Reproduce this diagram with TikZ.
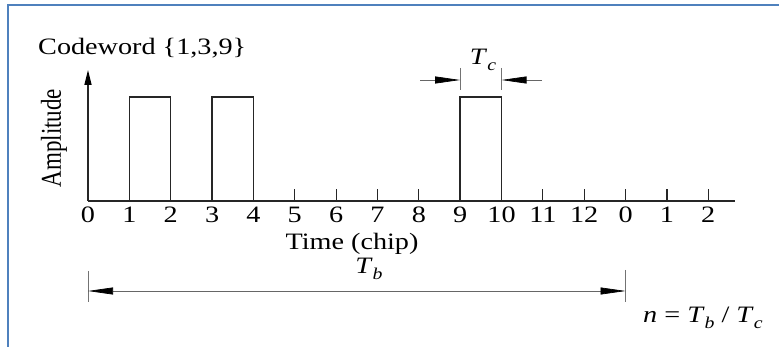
\documentclass[tikz,border=0pt]{standalone}
\usepackage{fontspec}
\setmainfont[FakeStretch=1.2]{Liberation Serif}
\newfontfamily\plainserif{Liberation Serif}
\usetikzlibrary{arrows.meta}
\definecolor{frameblue}{RGB}{79,129,189}
\newcommand{\mysub}[1]{\raisebox{-0.55ex}{\fontsize{16.5}{16}\selectfont\itshape #1}}
\begin{document}
\begin{tikzpicture}[x=1pt,y=-1pt,
  every node/.style={font=\fontsize{23.5}{26}\selectfont, inner sep=0pt},
  axisline/.style={line width=1.5pt, black!85},
  pulse/.style={line width=1.5pt, black!85},
  tickmark/.style={line width=1.2pt, black!85},
  dimline/.style={line width=0.7pt, black!60},
  dimtick/.style={line width=0.8pt, black!55},
  bigtip/.tip={Triangle[length=25pt,width=7pt,color=black]}
]
\useasboundingbox (0,0) rectangle (779,347);
% frame
\draw[frameblue, line width=2pt] (8,352) -- (8,5) -- (784,5);
% tick coordinates and labels
\foreach \i/\l in {0/0,1/1,2/2,3/3,4/4,5/5,6/6,7/7,8/8,9/9,10/10,11/11,12/12,13/0,14/1,15/2}{
  \coordinate (t\i) at ({88+41.35*\i},201);
  \coordinate (p\i) at ({88+41.35*\i},97);
  \node[anchor=base] (lab\i) at ({88+41.35*\i},223) {\l};
}
% axes
\coordinate (axend) at (735,201);
\coordinate (ytop) at (88,70);
\draw[axisline] (t0) -- (axend);
\draw[axisline, -{Triangle[length=15pt,width=7pt,color=black]}] (t0) -- (ytop);
% small ticks
\foreach \i in {5,6,7,8,11,12,13,14,15}{
  \draw[tickmark] (t\i) -- ++(0,-12);
}
% pulses
\draw[pulse] (t1) -- (p1) -- (p2) -- (t2);
\draw[pulse] (t3) -- (p3) -- (p4) -- (t4);
\draw[pulse] (t9) -- (p9) -- (p10) -- (t10);
% Tc dimension
\path (t9) ++(0,-133) coordinate (c9top) ++(0,22) coordinate (c9bot);
\path (t10) ++(0,-133) coordinate (c10top) ++(0,22) coordinate (c10bot);
\draw[dimtick] (c9top) -- (c9bot);
\draw[dimtick] (c10top) -- (c10bot);
\path (t9) ++(0,-121) coordinate (tcL);
\path (t10) ++(0,-121) coordinate (tcR);
\coordinate (tcLfree) at (420,80);
\coordinate (tcRfree) at (542,80);
\draw[dimline, -bigtip] (tcLfree) -- (tcL);
\draw[dimline, -bigtip] (tcRfree) -- (tcR);
\node[anchor=base] (tc) at (483,65) {\textit{T}\mysub{c}};
% Tb dimension
\path (t0) ++(0,70) coordinate (b0top) ++(0,31) coordinate (b0bot);
\path (t13) ++(0,69) coordinate (b13top) ++(0,32) coordinate (b13bot);
\draw[dimtick] (b0top) -- (b0bot);
\draw[dimtick] (b13top) -- (b13bot);
\path (t0) ++(0,90) coordinate (tbL);
\path (t13) ++(0,90) coordinate (tbR);
\draw[dimline, bigtip-bigtip] (tbL) -- (tbR);
\node[anchor=base] (tb) at (369,274) {\textit{T}\mysub{b}};
% texts
\node[anchor=base west] (code) at (38,55) {Codeword \{1,3,9\}};
\node[anchor=base] (time) at (352,250) {Time (chip)};
\node[rotate=90] (amp) at (54,138) {\scalebox{1}[1.25]{\plainserif\fontsize{23}{26}\selectfont Amplitude}};
\node[anchor=base west] (ratio) at (643,323) {\textit{n} = \textit{T}\mysub{b} / \textit{T}\mysub{c}};
\end{tikzpicture}
\end{document}
